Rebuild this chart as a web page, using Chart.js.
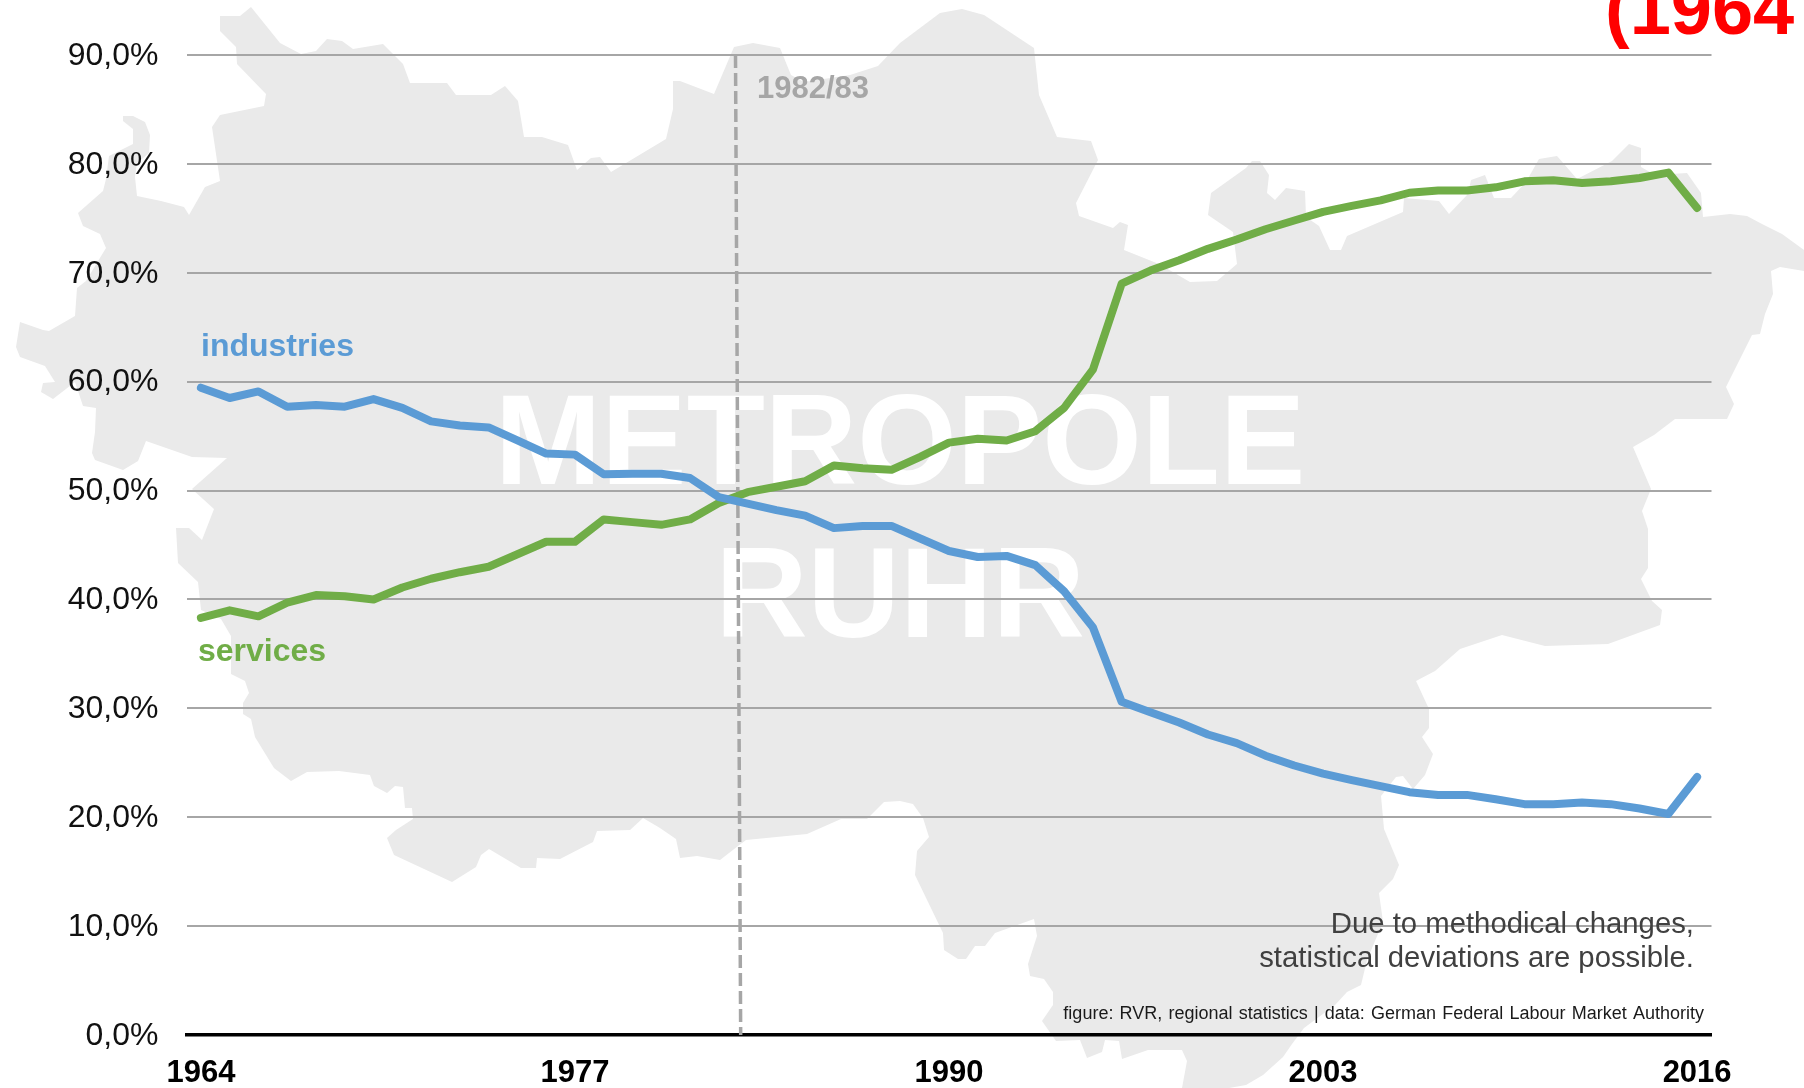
<!DOCTYPE html>
<html>
<head>
<meta charset="utf-8">
<style>html,body{margin:0;padding:0;background:#fff;overflow:hidden}canvas{display:block}</style>
<script src="https://cdn.jsdelivr.net/npm/chart.js@4/dist/chart.umd.min.js"></script>
</head>
<body>
<canvas id="c" width="1804" height="1088"></canvas>
<script>
const years = [1964,1965,1966,1967,1968,1969,1970,1971,1972,1973,1974,1975,1976,1977,1978,1979,1980,1981,1982,1983,1984,1985,1986,1987,1988,1989,1990,1991,1992,1993,1994,1995,1996,1997,1998,1999,2000,2001,2002,2003,2004,2005,2006,2007,2008,2009,2010,2011,2012,2013,2014,2015,2016];
const xTickYears = [1964,1977,1990,2003,2016];
const industries = [59.45,58.5,59.1,57.7,57.85,57.7,58.4,57.6,56.35,55.97,55.8,54.6,53.4,53.3,51.5,51.55,51.55,51.15,49.4,48.8,48.2,47.7,46.55,46.75,46.75,45.6,44.45,43.9,44.0,43.15,40.75,37.45,30.6,29.65,28.7,27.6,26.8,25.65,24.75,24.0,23.4,22.85,22.3,22.05,22.05,21.65,21.2,21.2,21.35,21.2,20.8,20.3,23.7];
const services = [38.3,39.0,38.45,39.7,40.4,40.3,40.0,41.1,41.9,42.5,43.0,44.15,45.3,45.3,47.35,47.1,46.85,47.35,48.85,49.85,50.35,50.85,52.3,52.05,51.9,53.1,54.4,54.75,54.6,55.45,57.6,61.1,69.0,70.2,71.15,72.2,73.05,74.0,74.8,75.6,76.15,76.65,77.35,77.55,77.55,77.85,78.4,78.5,78.25,78.4,78.7,79.2,75.95];

// Decorative backdrop: outline of the Ruhr region (page pixels)
const mapOutline = [[220,16],[240,16],[251,7],[280,43],[301,54],[316,51],[327,39],[342,41],[353,49],[383,44],[403,64],[410,83],[447,83],[456,95],[491,95],[505,86],[518,101],[524,137],[542,137],[568,145],[577,170],[591,158],[600,157],[611,172],[666,139],[673,109],[673,81],[680,81],[714,94],[734,47],[753,43],[780,48],[791,75],[804,82],[850,75],[878,66],[900,43],[940,13],[962,9],[984,15],[1034,48],[1039,95],[1057,137],[1091,141],[1098,160],[1076,203],[1079,216],[1113,228],[1120,222],[1128,225],[1124,250],[1159,264],[1190,282],[1217,281],[1237,264],[1233,232],[1208,215],[1211,193],[1246,168],[1252,161],[1260,161],[1269,175],[1267,193],[1275,200],[1286,188],[1305,191],[1306,217],[1319,226],[1330,250],[1341,250],[1347,236],[1403,212],[1404,198],[1439,201],[1449,214],[1468,194],[1471,180],[1485,175],[1494,198],[1511,198],[1526,182],[1539,159],[1557,156],[1577,179],[1612,161],[1629,144],[1641,148],[1641,167],[1655,175],[1687,173],[1701,193],[1703,217],[1730,214],[1747,216],[1762,224],[1782,234],[1804,250],[1804,271],[1780,267],[1771,271],[1773,294],[1765,314],[1760,334],[1752,335],[1726,387],[1734,404],[1727,419],[1675,419],[1654,435],[1633,447],[1651,489],[1642,511],[1648,529],[1648,568],[1641,579],[1652,601],[1662,610],[1660,625],[1608,644],[1545,646],[1502,635],[1460,649],[1435,671],[1416,681],[1429,709],[1429,728],[1422,737],[1433,754],[1425,775],[1413,789],[1403,776],[1396,777],[1381,796],[1384,829],[1399,865],[1393,879],[1379,893],[1383,922],[1367,960],[1361,985],[1347,992],[1335,1005],[1304,1028],[1292,1044],[1283,1057],[1263,1075],[1246,1085],[1229,1088],[1182,1088],[1187,1061],[1182,1050],[1148,1050],[1122,1059],[1119,1041],[1105,1040],[1102,1052],[1087,1058],[1080,1040],[1056,1041],[1042,1021],[1053,1005],[1053,992],[1044,979],[1030,976],[1028,964],[1037,936],[1034,919],[995,933],[985,946],[975,946],[966,959],[958,959],[944,950],[943,933],[915,875],[917,851],[929,837],[923,818],[913,804],[900,801],[884,802],[867,819],[841,819],[807,834],[746,840],[738,846],[720,860],[697,856],[680,858],[676,839],[660,828],[643,818],[630,830],[597,831],[593,842],[560,859],[537,858],[536,868],[521,868],[489,849],[481,855],[476,867],[452,882],[394,855],[387,838],[396,830],[413,819],[412,808],[405,808],[403,787],[395,786],[387,793],[374,786],[370,775],[339,771],[307,772],[291,781],[274,768],[255,737],[251,719],[243,714],[243,703],[249,693],[245,681],[231,674],[231,636],[221,619],[201,610],[198,582],[178,563],[176,528],[189,528],[202,540],[214,509],[192,489],[227,458],[192,457],[146,441],[138,461],[123,470],[95,460],[92,453],[95,432],[96,408],[83,406],[75,382],[53,399],[41,392],[43,383],[55,382],[45,366],[20,357],[16,347],[20,322],[43,330],[49,331],[75,316],[77,288],[86,281],[106,248],[100,234],[83,226],[78,213],[103,191],[106,179],[109,156],[133,144],[133,129],[123,121],[123,116],[133,116],[145,122],[150,135],[149,153],[137,163],[135,177],[137,196],[161,201],[184,207],[189,215],[205,187],[220,181],[212,127],[220,115],[264,106],[266,94],[237,64],[236,47],[220,31]];

const FONT = '"Liberation Sans", Arial, sans-serif';

const backdrop = {
  id: 'backdrop',
  beforeDraw(chart) {
    const c = chart.ctx;
    c.save();
    c.fillStyle = '#fff';
    c.fillRect(0, 0, 1804, 1088);
    c.beginPath();
    mapOutline.forEach(([x, y], i) => i ? c.lineTo(x, y) : c.moveTo(x, y));
    c.closePath();
    c.fillStyle = '#EAEAEA';
    c.fill();
    c.fillStyle = '#fff';
    c.textAlign = 'center';
    c.textBaseline = 'alphabetic';
    c.font = 'bold 128px ' + FONT;
    c.fillText('METROPOLE', 900, 484);
    c.fillText('RUHR', 900, 637);
    c.restore();
  }
};

const annotations = {
  id: 'annotations',
  beforeDatasetsDraw(chart) {
    const c = chart.ctx, xs = chart.scales.x, ys = chart.scales.y;
    c.save();
    c.strokeStyle = '#A6A6A6';
    c.lineWidth = 3.5;
    c.setLineDash([13, 5]);
    c.beginPath();
    c.moveTo(xs.getPixelForValue(18.58), ys.getPixelForValue(90));
    c.lineTo(xs.getPixelForValue(18.76), ys.getPixelForValue(0));
    c.stroke();
    c.restore();
  },
  afterDatasetsDraw(chart) {
    const c = chart.ctx;
    c.save();
    c.textBaseline = 'alphabetic';
    c.textAlign = 'left';
    c.font = 'bold 31px ' + FONT;
    c.fillStyle = '#A6A6A6';
    c.fillText('1982/83', 757, 98);
    c.font = 'bold 32px ' + FONT;
    c.fillStyle = '#5B9BD5';
    c.fillText('industries', 201, 356);
    c.fillStyle = '#70AD47';
    c.fillText('services', 198, 661);
    c.font = 'bold 74px ' + FONT;
    c.fillStyle = '#FF0000';
    c.fillText('(1964', 1605, 34);
    c.textAlign = 'right';
    c.font = '29.3px ' + FONT;
    c.fillStyle = '#404040';
    c.fillText('Due to methodical changes,', 1694, 933);
    c.fillText('statistical deviations are possible.', 1694, 967);
    c.font = '18px ' + FONT;
    c.fillStyle = '#1a1a1a';
    c.wordSpacing = '1.2px';
    c.fillText('figure: RVR, regional statistics | data: German Federal Labour Market Authority', 1704, 1019);
    c.restore();
  }
};

new Chart(document.getElementById('c'), {
  type: 'line',
  data: {
    labels: years,
    datasets: [
      { label: 'industries', data: industries, borderColor: '#5B9BD5', backgroundColor: '#5B9BD5' },
      { label: 'services', data: services, borderColor: '#70AD47', backgroundColor: '#70AD47' }
    ]
  },
  options: {
    responsive: false,
    animation: false,
    layout: { padding: { top: 55, right: 92.5, bottom: 0, left: 0 } },
    elements: {
      point: { radius: 0 },
      line: { borderWidth: 8, tension: 0, borderCapStyle: 'round', borderJoinStyle: 'round' }
    },
    plugins: { legend: { display: false }, title: { display: false }, tooltip: { enabled: false } },
    scales: {
      x: {
        offset: true,
        afterFit(s) { s.height = 53; },
        grid: { display: false },
        border: { display: true, color: '#000', width: 3.5 },
        ticks: {
          autoSkip: false, maxRotation: 0, minRotation: 0, padding: 12,
          color: '#000', font: { family: FONT, size: 31, weight: 'bold' },
          callback(v) { const y = years[v]; return xTickYears.includes(y) ? String(y) : ''; }
        }
      },
      y: {
        min: 0, max: 90,
        afterFit(s) { s.width = 186.5; },
        grid: { color: '#A6A6A6', lineWidth: 2, drawTicks: false },
        border: { display: false },
        ticks: {
          stepSize: 10, padding: 28, labelOffset: 1, color: '#111',
          font: { family: FONT, size: 32 },
          callback(v) { return v.toFixed(1).replace('.', ',') + '%'; }
        }
      }
    }
  },
  plugins: [backdrop, annotations]
});
</script>
</body>
</html>
